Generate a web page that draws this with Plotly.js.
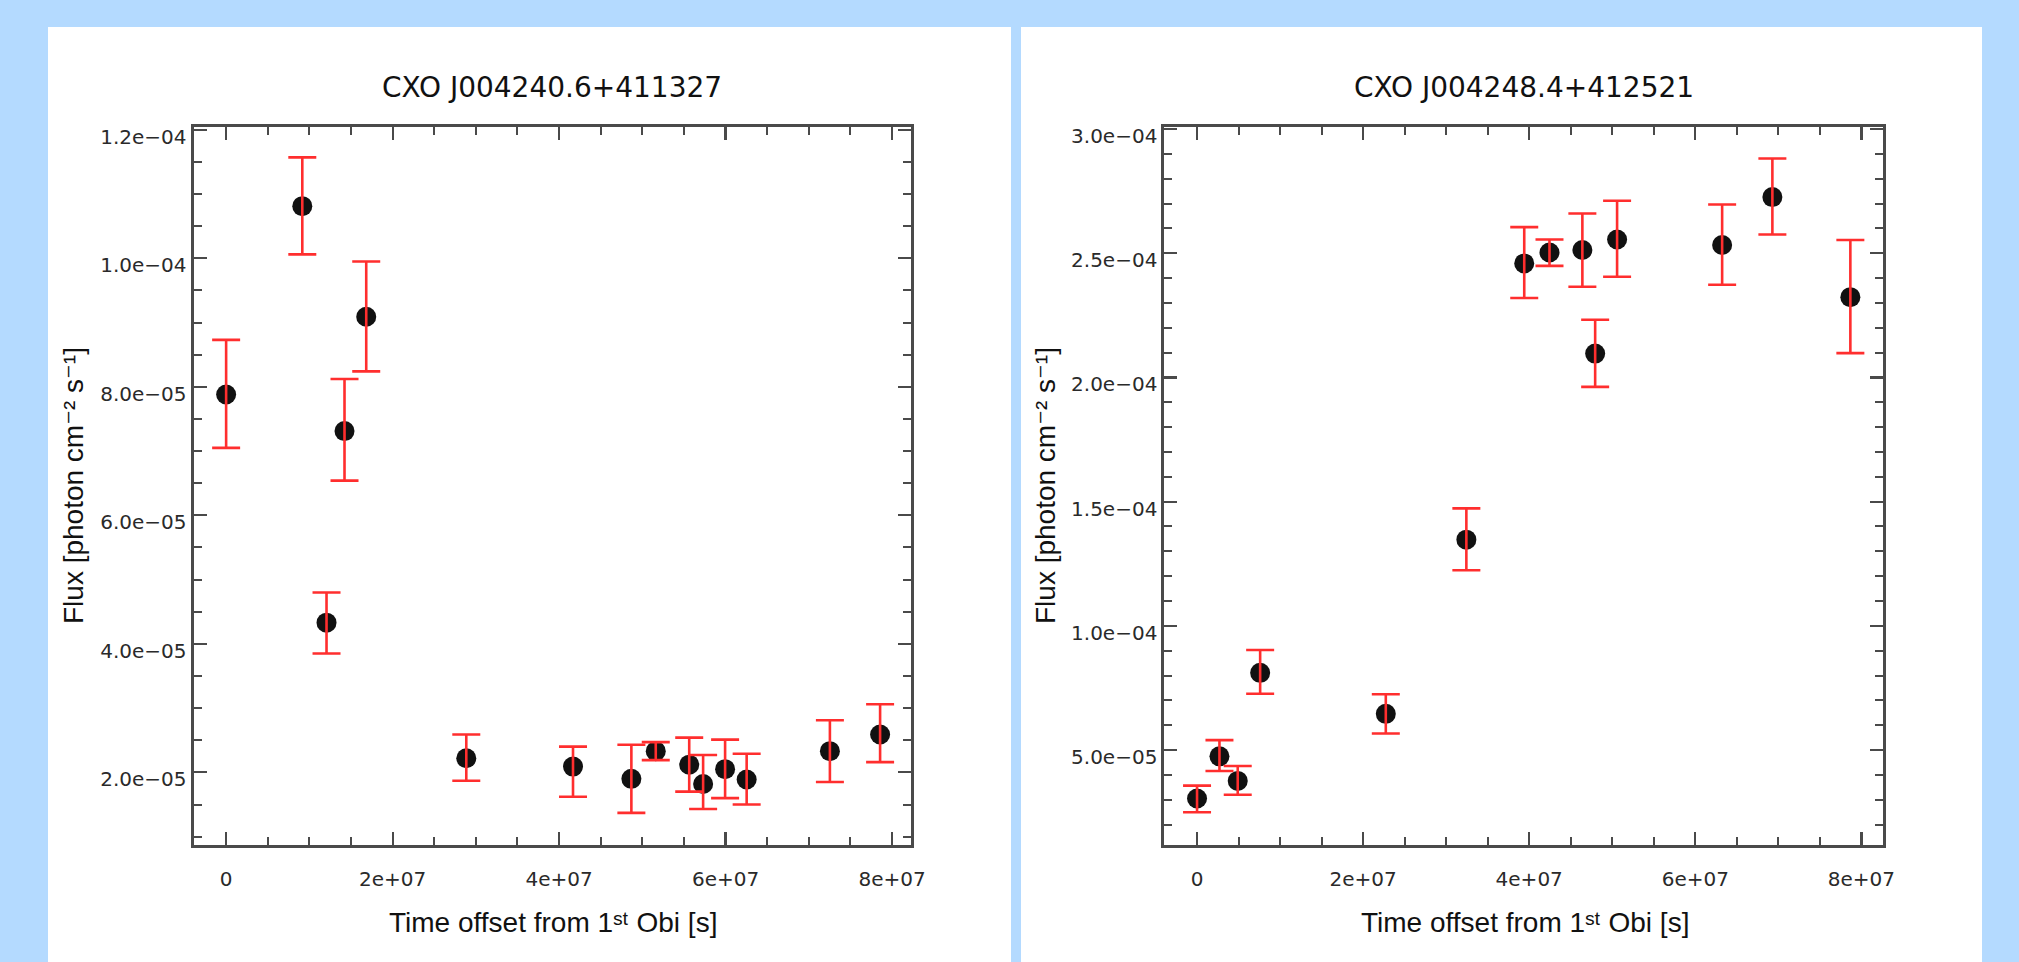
<!DOCTYPE html>
<html>
<head>
<meta charset="utf-8">
<script src="https://cdn.plot.ly/plotly-3.0.1.min.js"></script>
<style>
html, body { margin: 0; padding: 0; background: #b4daff; }
#chart { width: 2019px; height: 962px; }
</style>
</head>
<body>
<div id="chart"></div>
<script>
// ---- Source 1: CXO J004240.6+411327 ----
var title1 = "CXO J004240.6+411327";
var time1 = [0, 9.15e6, 1.206e7, 1.422e7, 1.683e7, 2.885e7, 4.167e7, 4.868e7, 5.161e7, 5.563e7, 5.73e7, 5.994e7, 6.253e7, 7.253e7, 7.856e7];
var flux1 = [7.88e-5, 1.081e-4, 4.33e-5, 7.31e-5, 9.09e-5, 2.22e-5, 2.09e-5, 1.90e-5, 2.33e-5, 2.12e-5, 1.82e-5, 2.05e-5, 1.89e-5, 2.33e-5, 2.59e-5];
var errUp1 = [0.85e-5, 0.76e-5, 0.47e-5, 0.81e-5, 0.86e-5, 0.37e-5, 0.31e-5, 0.53e-5, 0.14e-5, 0.42e-5, 0.45e-5, 0.46e-5, 0.40e-5, 0.48e-5, 0.47e-5];
var errDn1 = [0.83e-5, 0.75e-5, 0.48e-5, 0.77e-5, 0.85e-5, 0.35e-5, 0.47e-5, 0.53e-5, 0.14e-5, 0.42e-5, 0.39e-5, 0.45e-5, 0.39e-5, 0.48e-5, 0.43e-5];

// ---- Source 2: CXO J004248.4+412521 ----
var title2 = "CXO J004248.4+412521";
var time2 = [0, 2.7e6, 4.9e6, 7.6e6, 2.273e7, 3.243e7, 3.94e7, 4.244e7, 4.64e7, 4.794e7, 5.058e7, 6.323e7, 6.928e7, 7.867e7];
var flux2 = [3.05e-5, 4.75e-5, 3.76e-5, 8.11e-5, 6.46e-5, 1.347e-4, 2.459e-4, 2.503e-4, 2.513e-4, 2.096e-4, 2.555e-4, 2.533e-4, 2.726e-4, 2.323e-4];
var errUp2 = [0.52e-5, 0.65e-5, 0.60e-5, 0.92e-5, 0.79e-5, 1.26e-5, 1.46e-5, 0.52e-5, 1.47e-5, 1.36e-5, 1.56e-5, 1.63e-5, 1.55e-5, 2.30e-5];
var errDn2 = [0.55e-5, 0.59e-5, 0.56e-5, 0.84e-5, 0.79e-5, 1.23e-5, 1.39e-5, 0.54e-5, 1.48e-5, 1.34e-5, 1.50e-5, 1.60e-5, 1.51e-5, 2.25e-5];

// ---- Tick labels ----
var xTickVals = [0, 2e7, 4e7, 6e7, 8e7];
var xTickText = ["0", "2e+07", "4e+07", "6e+07", "8e+07"];
var yTickVals1 = [2e-5, 4e-5, 6e-5, 8e-5, 1.0e-4, 1.2e-4];
var yTickText1 = ["2.0e\u221205", "4.0e\u221205", "6.0e\u221205", "8.0e\u221205", "1.0e\u221204", "1.2e\u221204"];
var yTickVals2 = [5e-5, 1.0e-4, 1.5e-4, 2.0e-4, 2.5e-4, 3.0e-4];
var yTickText2 = ["5.0e\u221205", "1.0e\u221204", "1.5e\u221204", "2.0e\u221204", "2.5e\u221204", "3.0e\u221204"];

var xTitle = "Time offset from 1\u02E2\u1D57 Obi [s]";
var yTitle = "Flux [photon cm\u207B\u00B2 s\u207B\u00B9]";

// ---- Styling ----
var W = 2019, H = 962;
var AX = '#4a4a4a';
var RED = '#ff2e2e';
var tickFont = {family: 'DejaVu Sans, sans-serif', size: 20, color: '#2a2a2a'};
var titleFont = {family: 'DejaVu Sans, sans-serif', size: 28, color: '#111'};
var axTitleFont = {family: 'Liberation Sans, DejaVu Sans, sans-serif', size: 28, color: '#111'};

function px(x) { return x / W; }
function py(y) { return (H - y) / H; }

function markerTrace(t, f, xa, ya) {
  return {x: t, y: f, xaxis: xa, yaxis: ya, type: 'scatter', mode: 'markers',
    marker: {color: '#111', size: 20, line: {width: 0}}, showlegend: false, hoverinfo: 'x+y'};
}
function errTrace(t, f, up, dn, xa, ya) {
  return {x: t, y: f, xaxis: xa, yaxis: ya, type: 'scatter', mode: 'markers',
    marker: {color: 'rgba(0,0,0,0)', size: 1},
    error_y: {type: 'data', symmetric: false, array: up, arrayminus: dn,
      color: RED, thickness: 2.6, width: 14},
    showlegend: false, hoverinfo: 'skip'};
}

var data = [
  markerTrace(time1, flux1, 'x', 'y'),
  errTrace(time1, flux1, errUp1, errDn1, 'x', 'y'),
  markerTrace(time2, flux2, 'x2', 'y2'),
  errTrace(time2, flux2, errUp2, errDn2, 'x2', 'y2')
];

function xAxis(domain, range, anchor) {
  return {domain: domain, range: range, anchor: anchor,
    tickmode: 'array', tickvals: xTickVals, ticktext: xTickText,
    ticks: 'inside', ticklen: 13, tickwidth: 2.2, tickcolor: AX,
    minor: {dtick: 5e6, tick0: 0, ticks: 'inside', ticklen: 8, tickwidth: 2, tickcolor: AX, showgrid: false},
    showline: true, linecolor: AX, linewidth: 3, mirror: 'ticks',
    showgrid: false, zeroline: false, tickfont: tickFont, ticklabelstandoff: 14,
    fixedrange: true};
}
function yAxis(domain, range, anchor, vals, text, minorStep) {
  return {domain: domain, range: range, anchor: anchor,
    tickmode: 'array', tickvals: vals, ticktext: text,
    ticks: 'inside', ticklen: 13, tickwidth: 2.2, tickcolor: AX,
    minor: {dtick: minorStep, tick0: 0, ticks: 'inside', ticklen: 8, tickwidth: 2, tickcolor: AX, showgrid: false},
    showline: true, linecolor: AX, linewidth: 3, mirror: 'ticks',
    showgrid: false, zeroline: false, tickfont: tickFont, ticklabelstandoff: 0,
    ticklabelshift: 7, fixedrange: true};
}

var yDom = [py(845), py(126.5)];

var layout = {
  width: W, height: H,
  margin: {l: 0, r: 0, t: 0, b: 0, pad: 0},
  paper_bgcolor: '#b4daff',
  plot_bgcolor: '#ffffff',
  showlegend: false,
  xaxis: xAxis([px(193.5), px(911.4)], [-3.92e6, 8.232e7], 'y'),
  yaxis: yAxis(yDom, [0.87e-5, 1.205e-4], 'x', yTickVals1, yTickText1, 5e-6),
  xaxis2: xAxis([px(1164.4), px(1883)], [-3.93e6, 8.26e7], 'y2'),
  yaxis2: yAxis(yDom, [1.18e-5, 3.01e-4], 'x2', yTickVals2, yTickText2, 1e-5),
  shapes: [
    {type: 'rect', xref: 'paper', yref: 'paper', x0: px(48), x1: px(1011), y0: 0, y1: py(27),
      fillcolor: '#ffffff', line: {width: 0}, layer: 'below'},
    {type: 'rect', xref: 'paper', yref: 'paper', x0: px(1021), x1: px(1982), y0: 0, y1: py(27),
      fillcolor: '#ffffff', line: {width: 0}, layer: 'below'}
  ],
  annotations: [
    {text: title1, xref: 'paper', yref: 'paper', x: px(552), y: py(87), xanchor: 'center', yanchor: 'middle', showarrow: false, font: titleFont},
    {text: title2, xref: 'paper', yref: 'paper', x: px(1524), y: py(87), xanchor: 'center', yanchor: 'middle', showarrow: false, font: titleFont},
    {text: xTitle, xref: 'paper', yref: 'paper', x: px(553), y: py(922), xanchor: 'center', yanchor: 'middle', showarrow: false, font: axTitleFont},
    {text: xTitle, xref: 'paper', yref: 'paper', x: px(1525), y: py(922), xanchor: 'center', yanchor: 'middle', showarrow: false, font: axTitleFont},
    {text: yTitle, xref: 'paper', yref: 'paper', x: px(73), y: py(486), xanchor: 'center', yanchor: 'middle', textangle: -90, showarrow: false, font: axTitleFont},
    {text: yTitle, xref: 'paper', yref: 'paper', x: px(1045), y: py(486), xanchor: 'center', yanchor: 'middle', textangle: -90, showarrow: false, font: axTitleFont}
  ]
};

Plotly.newPlot('chart', data, layout, {staticPlot: true, displayModeBar: false});
</script>
</body>
</html>
